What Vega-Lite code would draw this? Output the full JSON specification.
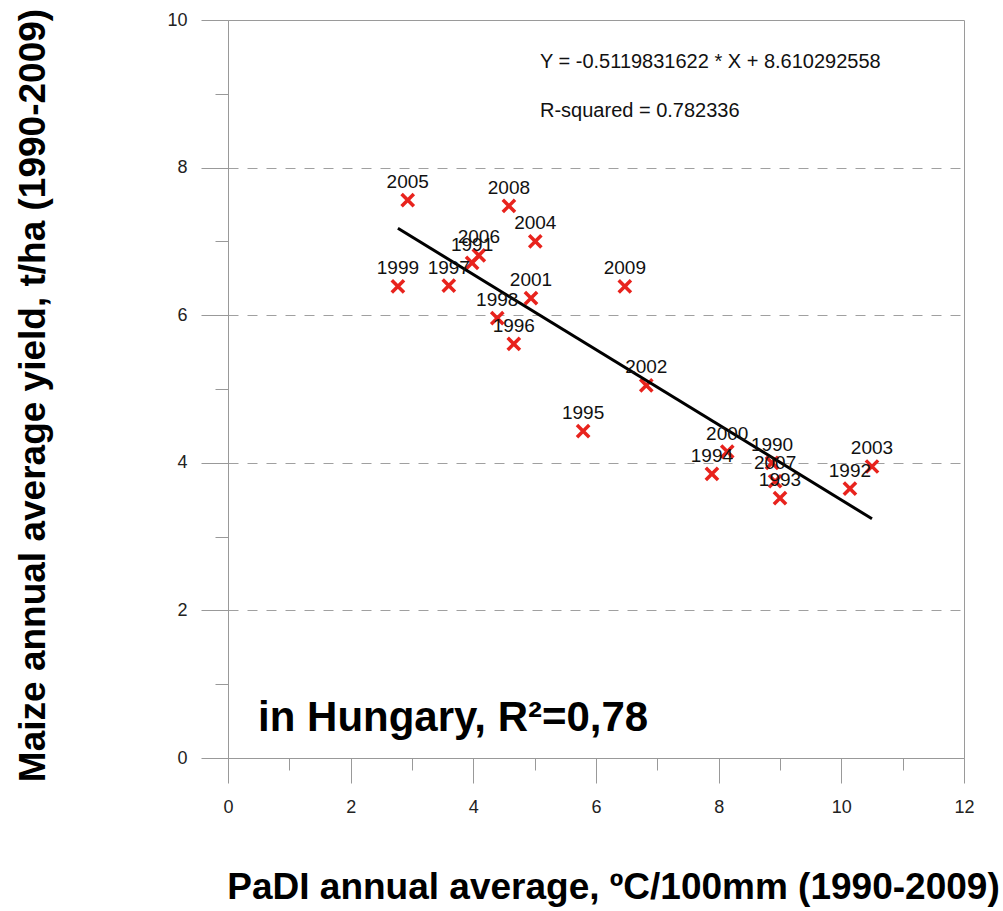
{
  "$schema": "https://vega.github.io/schema/vega-lite/v6.json",
  "width": 736,
  "height": 738,
  "autosize": "none",
  "padding": {"left": 228, "top": 20, "right": 39, "bottom": 153},
  "background": "white",
  "config": {
    "view": {"stroke": "#9a9a9a", "strokeWidth": 1},
    "font": "Liberation Sans"
  },
  "datasets": {
    "pts": [
      {"year": "1990", "padi": 8.87, "yield": 4.00},
      {"year": "1991", "padi": 3.98, "yield": 6.71},
      {"year": "1992", "padi": 10.14, "yield": 3.65},
      {"year": "1993", "padi": 9.00, "yield": 3.52},
      {"year": "1994", "padi": 7.89, "yield": 3.85},
      {"year": "1995", "padi": 5.79, "yield": 4.43},
      {"year": "1996", "padi": 4.66, "yield": 5.61},
      {"year": "1997", "padi": 3.60, "yield": 6.40},
      {"year": "1998", "padi": 4.39, "yield": 5.96},
      {"year": "1999", "padi": 2.77, "yield": 6.39},
      {"year": "2000", "padi": 8.14, "yield": 4.15},
      {"year": "2001", "padi": 4.94, "yield": 6.23},
      {"year": "2002", "padi": 6.82, "yield": 5.05},
      {"year": "2003", "padi": 10.50, "yield": 3.95},
      {"year": "2004", "padi": 5.01, "yield": 7.00},
      {"year": "2005", "padi": 2.93, "yield": 7.56},
      {"year": "2006", "padi": 4.09, "yield": 6.81},
      {"year": "2007", "padi": 8.92, "yield": 3.75},
      {"year": "2008", "padi": 4.58, "yield": 7.48},
      {"year": "2009", "padi": 6.47, "yield": 6.39}
    ],
    "notes": [
      {"txt": "Y = -0.5119831622 * X + 8.610292558", "nx": 5.087, "ny": 9.343},
      {"txt": "R-squared = 0.782336", "nx": 5.087, "ny": 8.679}
    ],
    "big": [
      {"txt": "in Hungary, R²=0,78", "nx": 0.49, "ny": 0.36}
    ]
  },
  "layer": [
    {
      "data": {"name": "pts"},
      "mark": {
        "type": "point",
        "shape": "M-1,-1L1,1M1,-1L-1,1",
        "filled": false,
        "stroke": "#e8231d",
        "strokeWidth": 3.5,
        "size": 150,
        "opacity": 1
      },
      "encoding": {
        "x": {
          "field": "padi",
          "type": "quantitative",
          "scale": {"domain": [0, 12], "nice": false, "zero": false},
          "axis": {
            "values": [0, 1, 2, 3, 4, 5, 6, 7, 8, 9, 10, 11, 12],
            "format": "d",
            "title": "PaDI annual average, ºC/100mm (1990-2009)",
            "titleFont": "Liberation Sans",
            "titleFontWeight": "bold",
            "titleFontSize": 37,
            "titleColor": "#000000",
            "titleX": 385,
            "titleY": 140,
            "titleAlign": "center",
            "titleBaseline": "alphabetic",
            "labelExpr": "datum.value % 2 === 0 ? datum.label : ''",
            "labelFont": "Liberation Sans",
            "labelFontSize": 18,
            "labelColor": "#222222",
            "labelFlush": false,
            "labelOverlap": false,
            "labelPadding": 15,
            "tickSize": {"condition": {"test": "datum.value % 2 === 0", "value": 25}, "value": 12},
            "tickColor": "#999999",
            "domainColor": "#999999",
            "grid": false
          }
        },
        "y": {
          "field": "yield",
          "type": "quantitative",
          "scale": {"domain": [0, 10], "nice": false, "zero": false},
          "axis": {
            "values": [0, 1, 2, 3, 4, 5, 6, 7, 8, 9, 10],
            "format": "d",
            "title": "Maize annual average yield, t/ha (1990-2009)",
            "titleFont": "Liberation Sans",
            "titleFontWeight": "bold",
            "titleFontSize": 37,
            "titleColor": "#000000",
            "titleX": -184,
            "titleY": 375,
            "titleAlign": "center",
            "titleBaseline": "alphabetic",
            "titleAngle": -90,
            "labelExpr": "datum.value % 2 === 0 ? datum.label : ''",
            "labelFont": "Liberation Sans",
            "labelFontSize": 18,
            "labelColor": "#222222",
            "labelFlush": false,
            "labelOverlap": false,
            "labelPadding": 14,
            "tickSize": {"condition": {"test": "datum.value % 2 === 0", "value": 27}, "value": 13},
            "tickColor": "#999999",
            "domainColor": "#999999",
            "grid": true,
            "gridColor": "#a0a0a0",
            "gridDash": [10, 9],
            "gridOpacity": {"condition": {"test": "datum.value % 2 === 0 && datum.value > 0 && datum.value < 10", "value": 1}, "value": 0}
          }
        }
      }
    },
    {
      "data": {"name": "pts"},
      "transform": [{"regression": "yield", "on": "padi"}],
      "mark": {"type": "line", "color": "#000000", "strokeWidth": 3},
      "encoding": {
        "x": {"field": "padi", "type": "quantitative"},
        "y": {"field": "yield", "type": "quantitative"}
      }
    },
    {
      "data": {"name": "pts"},
      "mark": {"type": "text", "font": "Liberation Sans", "fontSize": 19, "color": "#111111", "align": "center", "baseline": "alphabetic", "dy": -12},
      "encoding": {
        "x": {"field": "padi", "type": "quantitative"},
        "y": {"field": "yield", "type": "quantitative"},
        "text": {"field": "year"}
      }
    },
    {
      "data": {"name": "notes"},
      "mark": {"type": "text", "font": "Liberation Sans", "fontSize": 20, "color": "#111111", "align": "left", "baseline": "alphabetic"},
      "encoding": {
        "x": {"field": "nx", "type": "quantitative"},
        "y": {"field": "ny", "type": "quantitative"},
        "text": {"field": "txt"}
      }
    },
    {
      "data": {"name": "big"},
      "mark": {"type": "text", "font": "Liberation Sans", "fontSize": 42, "fontWeight": "bold", "color": "#000000", "align": "left", "baseline": "alphabetic"},
      "encoding": {
        "x": {"field": "nx", "type": "quantitative"},
        "y": {"field": "ny", "type": "quantitative"},
        "text": {"field": "txt"}
      }
    }
  ]
}
